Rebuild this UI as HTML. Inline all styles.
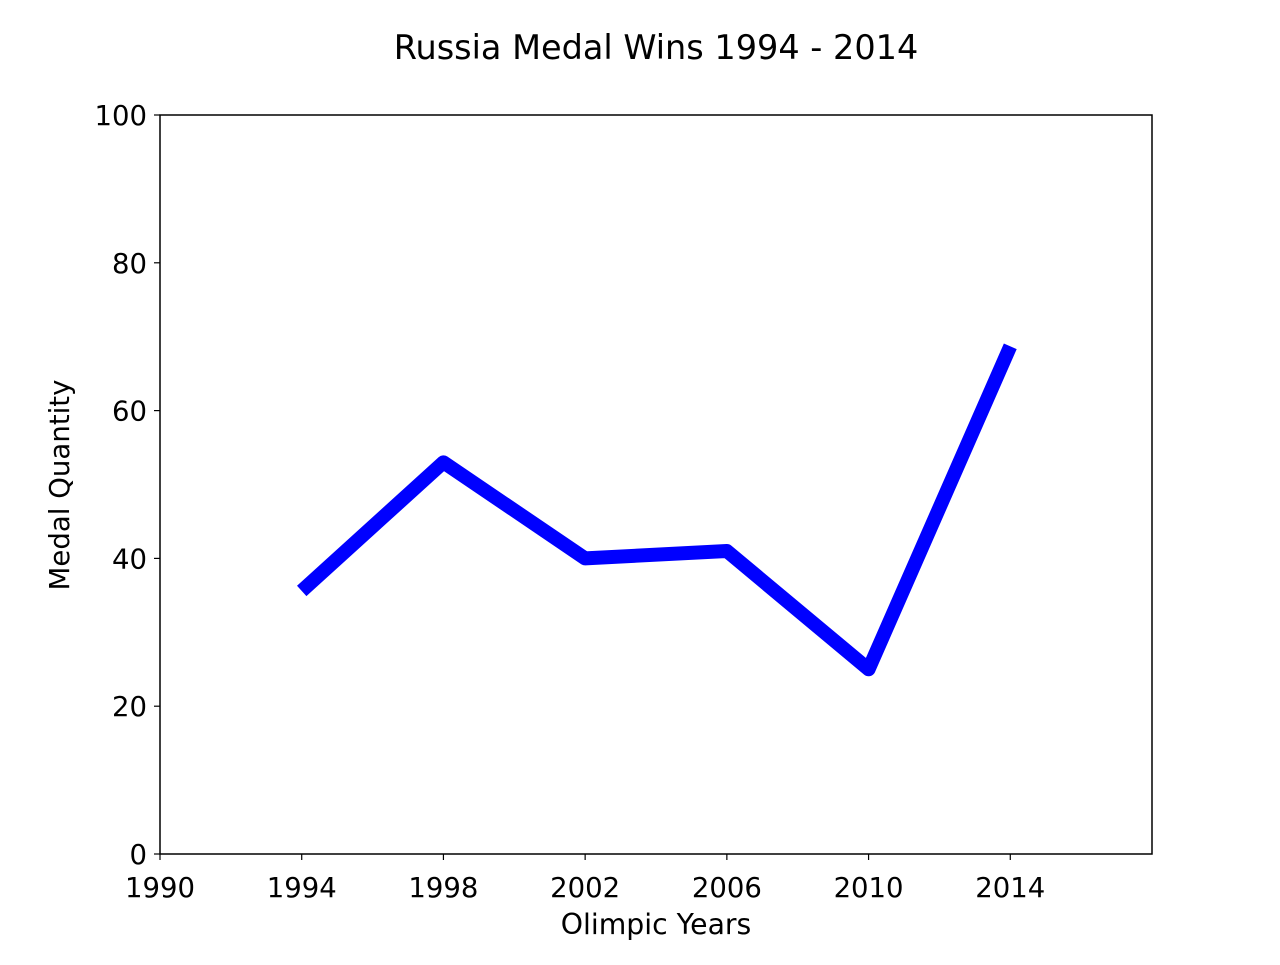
<!DOCTYPE html>
<html><head><meta charset="utf-8"><style>
html,body{margin:0;padding:0;background:#fff;}
svg text{font-family:"DejaVu Sans","Liberation Sans",sans-serif;fill:#000;}
</style></head><body>
<svg id="chart" width="1280" height="960" xmlns="http://www.w3.org/2000/svg">
<rect width="1280" height="960" fill="#fff"/>
<text x="656" y="59" font-size="33.5" text-anchor="middle">Russia Medal Wins 1994 - 2014</text>
<g id="ticks"></g>
<polyline id="series-line" fill="none" stroke="#0000ff" stroke-width="14" stroke-linejoin="round" stroke-linecap="butt"/>
<rect x="160" y="115" width="992" height="739" fill="none" stroke="#000" stroke-width="1.5"/>
<text x="656" y="934" font-size="28.3" text-anchor="middle">Olimpic Years</text>
<text transform="translate(69,485) rotate(-90)" font-size="27.6" text-anchor="middle">Medal Quantity</text>
</svg>
<script>
const years = [1994, 1998, 2002, 2006, 2010, 2014];
const medals = [35.6, 53, 40, 41, 25, 68.7];
const xTicks = [1990, 1994, 1998, 2002, 2006, 2010, 2014];
const yTicks = [0, 20, 40, 60, 80, 100];
const L=160,R=1152,T=115,B=854,X0=1990,X1=2018,Y0=0,Y1=100;
function sx(v){return L+(v-X0)/(X1-X0)*(R-L);}
function sy(v){return B-(v-Y0)/(Y1-Y0)*(B-T);}
const NS="http://www.w3.org/2000/svg";
const g=document.getElementById('ticks');
xTicks.forEach(t=>{
  const l=document.createElementNS(NS,'line');
  l.setAttribute('x1',sx(t));l.setAttribute('x2',sx(t));l.setAttribute('y1',B);l.setAttribute('y2',B+6);
  l.setAttribute('stroke','#000');l.setAttribute('stroke-width','1.2');
  
  
  g.appendChild(l);
  const tx=document.createElementNS(NS,'text');
  tx.setAttribute('x',sx(t));tx.setAttribute('y',B+43);tx.setAttribute('font-size','27.5');tx.setAttribute('text-anchor','middle');
  tx.textContent=t;
  
  
  g.appendChild(tx);
});
yTicks.forEach(t=>{
  const l=document.createElementNS(NS,'line');
  l.setAttribute('x1',L-6);l.setAttribute('x2',L);l.setAttribute('y1',sy(t));l.setAttribute('y2',sy(t));
  l.setAttribute('stroke','#000');l.setAttribute('stroke-width','1.2');
  
  
  g.appendChild(l);
  const tx=document.createElementNS(NS,'text');
  tx.setAttribute('x',L-13);tx.setAttribute('y',sy(t)+10);tx.setAttribute('font-size','27.5');tx.setAttribute('text-anchor','end');
  tx.textContent=t;
  
  
  g.appendChild(tx);
});
document.getElementById('series-line').setAttribute('points',years.map((y,i)=>sx(y)+','+sy(medals[i])).join(' '));
</script>
</body></html>
